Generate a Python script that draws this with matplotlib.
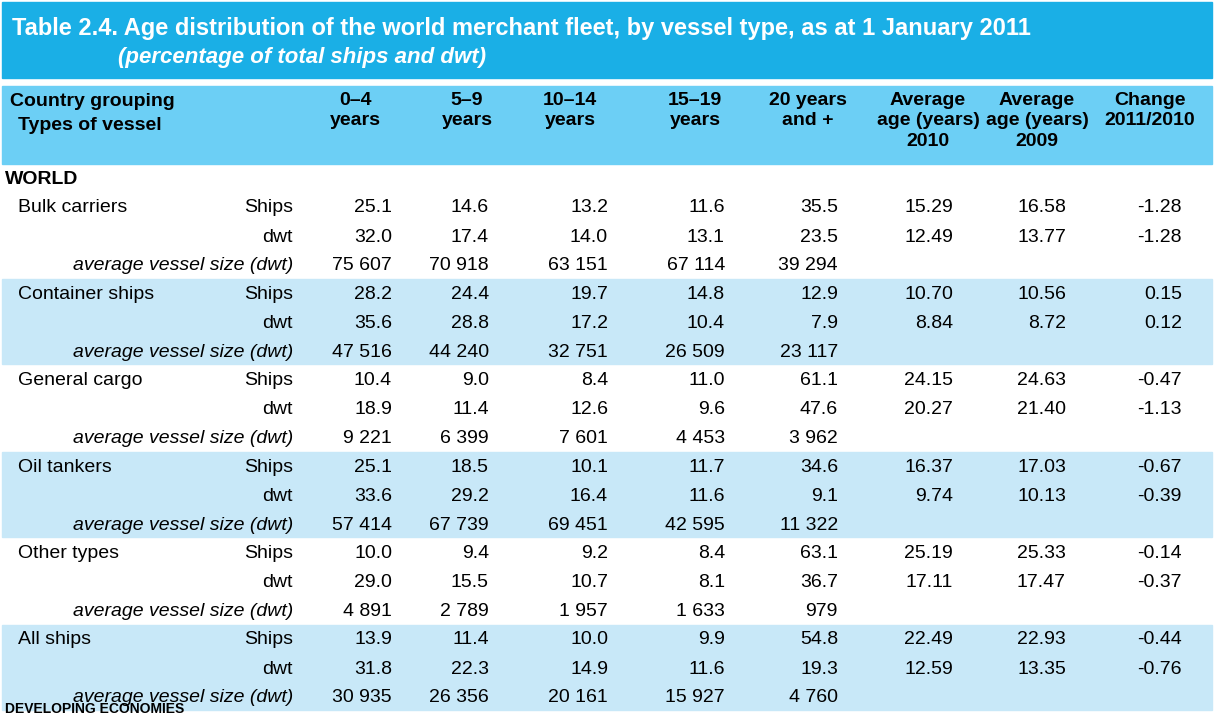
import matplotlib.pyplot as plt
from matplotlib.patches import Rectangle

plt.rcParams['font.family'] = ['Liberation Sans Narrow', 'Liberation Sans', 'DejaVu Sans']

title = "Table 2.4. Age distribution of the world merchant fleet, by vessel type, as at 1 January 2011"
subtitle = "(percentage of total ships and dwt)"
headers = ["0–4\nyears", "5–9\nyears", "10–14\nyears", "15–19\nyears", "20 years\nand +",
           "Average\nage (years)\n2010", "Average\nage (years)\n2009", "Change\n2011/2010"]
vessels = ["Bulk carriers", "Container ships", "General cargo", "Oil tankers", "Other types", "All ships"]
ships = [
    ["25.1", "14.6", "13.2", "11.6", "35.5", "15.29", "16.58", "-1.28"],
    ["28.2", "24.4", "19.7", "14.8", "12.9", "10.70", "10.56", "0.15"],
    ["10.4", "9.0", "8.4", "11.0", "61.1", "24.15", "24.63", "-0.47"],
    ["25.1", "18.5", "10.1", "11.7", "34.6", "16.37", "17.03", "-0.67"],
    ["10.0", "9.4", "9.2", "8.4", "63.1", "25.19", "25.33", "-0.14"],
    ["13.9", "11.4", "10.0", "9.9", "54.8", "22.49", "22.93", "-0.44"],
]
dwt = [
    ["32.0", "17.4", "14.0", "13.1", "23.5", "12.49", "13.77", "-1.28"],
    ["35.6", "28.8", "17.2", "10.4", "7.9", "8.84", "8.72", "0.12"],
    ["18.9", "11.4", "12.6", "9.6", "47.6", "20.27", "21.40", "-1.13"],
    ["33.6", "29.2", "16.4", "11.6", "9.1", "9.74", "10.13", "-0.39"],
    ["29.0", "15.5", "10.7", "8.1", "36.7", "17.11", "17.47", "-0.37"],
    ["31.8", "22.3", "14.9", "11.6", "19.3", "12.59", "13.35", "-0.76"],
]
avg_size = [
    ["75 607", "70 918", "63 151", "67 114", "39 294"],
    ["47 516", "44 240", "32 751", "26 509", "23 117"],
    ["9 221", "6 399", "7 601", "4 453", "3 962"],
    ["57 414", "67 739", "69 451", "42 595", "11 322"],
    ["4 891", "2 789", "1 957", "1 633", "979"],
    ["30 935", "26 356", "20 161", "15 927", "4 760"],
]

W, H = 1219, 719
fig = plt.figure(figsize=(W / 100, H / 100), dpi=100)
ax = fig.add_axes([0, 0, 1, 1])
ax.set_xlim(0, W)
ax.set_ylim(H, 0)
ax.axis('off')

# title bar
ax.add_patch(Rectangle((2, 2), 1210, 76, color='#1aafe6'))
ax.text(12, 28, title, color='white', fontsize=17, fontweight='bold', va='center')
ax.text(118, 58, subtitle, color='white', fontsize=16, fontweight='bold', style='italic', va='center')

# header band
ax.add_patch(Rectangle((2, 86), 1210, 78, color='#6ccff5'))
ax.text(10, 102, "Country grouping", fontsize=14, fontweight='bold', va='center')
ax.text(18, 126, "Types of vessel", fontsize=14, fontweight='bold', va='center')
hx = [355, 467, 570, 695, 808, 928, 1037, 1150]
for x, h in zip(hx, headers):
    ax.text(x, 92, h, fontsize=14, fontweight='bold', ha='center', va='top', linespacing=1.25)

ax.text(5, 180, "WORLD", fontsize=14, fontweight='bold', va='center')

colr = [392, 489, 608, 725, 838, 953, 1066, 1182]
y0, step = 208, 86.4
for g, name in enumerate(vessels):
    y = y0 + g * step
    if g % 2 == 1:
        ax.add_patch(Rectangle((2, y - 15), 1210, 85, color='#c8e8f8'))
    ax.text(18, y, name, fontsize=14, va='center')
    ax.text(293, y, "Ships", fontsize=14, ha='right', va='center')
    ax.text(293, y + 29, "dwt", fontsize=14, ha='right', va='center')
    ax.text(293, y + 58, "average vessel size (dwt)", fontsize=14, style='italic', ha='right', va='center')
    for x, v in zip(colr, ships[g]):
        ax.text(x, y, v, fontsize=14, ha='right', va='center')
    for x, v in zip(colr, dwt[g]):
        ax.text(x, y + 29, v, fontsize=14, ha='right', va='center')
    for x, v in zip(colr, avg_size[g]):
        ax.text(x, y + 58, v, fontsize=14, ha='right', va='center')

ax.text(5, 716, "DEVELOPING ECONOMIES", fontsize=10, fontweight='bold', va='bottom')

fig.savefig("out.png", dpi=100)
